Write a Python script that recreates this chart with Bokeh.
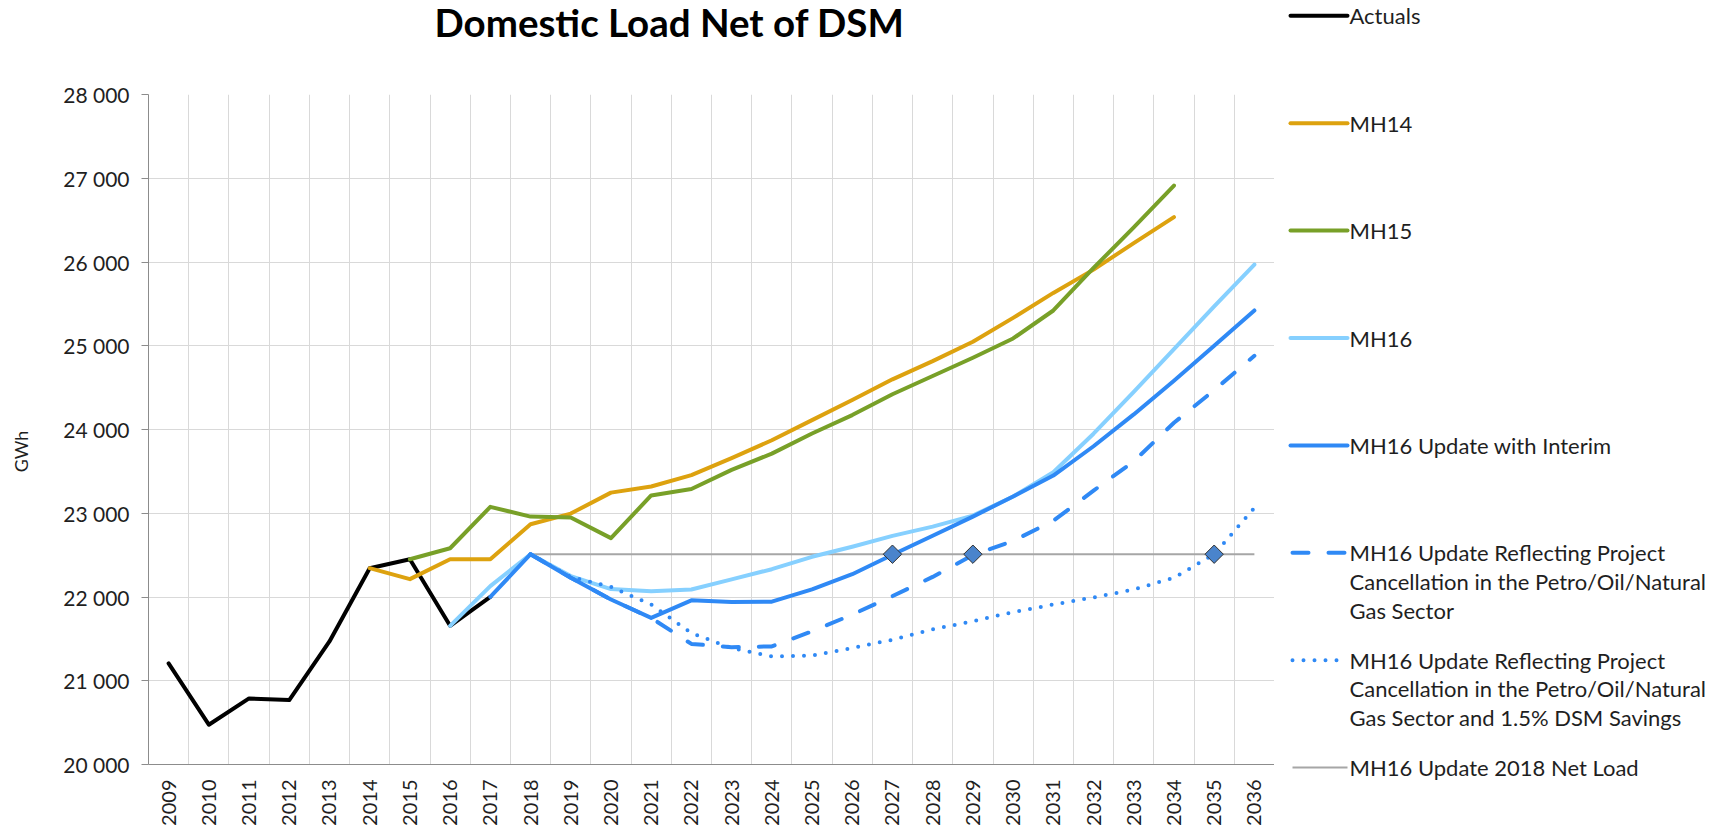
import numpy as np
from bokeh.plotting import figure
from bokeh.models import Range1d, FixedTicker
from bokeh.layouts import row, column
from bokeh.embed import file_html
from bokeh.resources import INLINE
from bokeh.core.properties import value

# ---------------- data ----------------
title_text = "Domestic Load Net of DSM"
y_axis_title = "GWh"

years = list(range(2009, 2037))
year_labels = [str(y) for y in years]

y_ticks = [20000, 21000, 22000, 23000, 24000, 25000, 26000, 27000, 28000]
y_tick_labels = ["20 000", "21 000", "22 000", "23 000", "24 000",
                 "25 000", "26 000", "27 000", "28 000"]

actual_years = list(range(2009, 2018))
actuals = [21207, 20475, 20789, 20769, 21469, 22344, 22451, 21656, 22002]

mh14_years = list(range(2014, 2035))
mh14 = [22344, 22213, 22451, 22451, 22869, 22996, 23246, 23320, 23455, 23658,
        23872, 24112, 24352, 24599, 24817, 25048, 25333, 25631, 25909, 26226, 26536]

mh15_years = list(range(2015, 2035))
mh15 = [22451, 22582, 23076, 22960, 22950, 22703, 23213, 23289, 23518, 23712,
        23952, 24172, 24421, 24639, 24857, 25087, 25421, 25929, 26413, 26913]

mh16_years = list(range(2016, 2037))
mh16 = [21656, 22130, 22511, 22250, 22095, 22070, 22090, 22210, 22332, 22480,
        22600, 22730, 22840, 22972, 23200, 23490, 23950, 24450, 24960, 25470, 25970]

interim_years = list(range(2017, 2037))
interim = [22002, 22511, 22230, 21970, 21750, 21960, 21940, 21944, 22092, 22272,
           22504, 22732, 22960, 23200, 23450, 23800, 24180, 24583, 25000, 25421]

cancel_years = list(range(2018, 2037))
cancel = [22511, 22230, 21970, 21750, 21440, 21400, 21410, 21590, 21790, 22010,
          22240, 22500, 22670, 22910, 23270, 23620, 24080, 24470, 24880]

dsm_years = list(range(2018, 2037))
dsm = [22511, 22240, 22120, 21910, 21570, 21390, 21290, 21300, 21390, 21490,
       21615, 21710, 21820, 21910, 21995, 22090, 22230, 22510, 23065]

net2018_years = [2018, 2036]
net2018_level = 22511

crossing_years = [2027, 2029, 2035]

legend_labels = [
    "Actuals",
    "MH14",
    "MH15",
    "MH16",
    "MH16 Update with Interim",
    "MH16 Update Reflecting Project\nCancellation in the Petro/Oil/Natural\nGas Sector",
    "MH16 Update Reflecting Project\nCancellation in the Petro/Oil/Natural\nGas Sector and 1.5% DSM Savings",
    "MH16 Update 2018 Net Load",
]

# ---------------- styles ----------------
BLUE = "#2F89F5"
styles = [
    dict(color="#000000", width=4, dash="solid"),
    dict(color="#DDA20F", width=4, dash="solid"),
    dict(color="#78A028", width=4, dash="solid"),
    dict(color="#86D0FF", width=4, dash="solid"),
    dict(color=BLUE, width=4, dash="solid"),
    dict(color=BLUE, width=4, dash="16 20"),
    dict(color=BLUE, width=4, dash="0 11"),
    dict(color="#A6A6A6", width=2, dash="solid"),
]
series = [
    (actual_years, actuals),
    (mh14_years, mh14),
    (mh15_years, mh15),
    (mh16_years, mh16),
    (interim_years, interim),
    (cancel_years, cancel),
    (dsm_years, dsm),
    (net2018_years, [net2018_level] * len(net2018_years)),
]
draw_order = [0, 7, 1, 2, 3, 4, 5, 6]

FONT = "Lato"
TEXT_COLOR = "#1F1F1F"

# layout geometry (page pixels; the layout starts at the page's top-left corner)
STRIP_W = 48          # narrow strip holding the y-axis title
AXIS_W = 100          # room for the y tick labels
FRAME_W = 1126
FRAME_H = 670
TITLE_H = 80
BORDER_T = 14
BORDER_B = 62
LEGEND_W = 440
TOTAL_H = TITLE_H + BORDER_T + FRAME_H + BORDER_B
FRAME_X0 = STRIP_W + AXIS_W
FRAME_X1 = FRAME_X0 + FRAME_W

# ---------------- main plot ----------------
p = figure(frame_width=FRAME_W, frame_height=FRAME_H,
           x_range=Range1d(2008.5, 2036.5), y_range=Range1d(20000, 28000),
           output_backend="svg", toolbar_location=None,
           min_border_left=AXIS_W, min_border_right=0,
           min_border_top=BORDER_T, min_border_bottom=BORDER_B)
p.outline_line_color = None
p.background_fill_color = "white"

for i in draw_order:
    xs, ys = series[i]
    st = styles[i]
    p.line(xs, ys, line_color=st["color"], line_width=st["width"],
           line_dash=st["dash"],
           line_cap="butt" if i == 7 else "round", line_join="round")

p.scatter(crossing_years, [net2018_level] * len(crossing_years),
          marker="square", angle=np.pi / 4, size=13,
          fill_color="#4A84CC", line_color="#333333", line_width=1)

# axes
p.xaxis.ticker = FixedTicker(ticks=years)
p.xaxis.major_label_overrides = {y: lab for y, lab in zip(years, year_labels)}
p.xaxis.major_label_orientation = np.pi / 2
p.xaxis.major_tick_out = 0
p.xaxis.major_tick_in = 0
p.xaxis.minor_tick_line_color = None
p.xaxis.major_label_standoff = 15
p.xaxis.major_label_text_font = FONT
p.xaxis.major_label_text_font_size = "20px"
p.xaxis.major_label_text_color = TEXT_COLOR
p.xaxis.axis_line_color = "#8C8C8C"

p.yaxis.ticker = FixedTicker(ticks=y_ticks)
p.yaxis.major_label_overrides = {t: lab for t, lab in zip(y_ticks, y_tick_labels)}
p.yaxis.major_tick_out = 7
p.yaxis.major_tick_in = 0
p.yaxis.minor_tick_line_color = None
p.yaxis.major_tick_line_color = "#8C8C8C"
p.yaxis.axis_line_color = "#8C8C8C"
p.yaxis.major_label_standoff = 12
p.yaxis.major_label_text_font = FONT
p.yaxis.major_label_text_font_size = "21px"
p.yaxis.major_label_text_color = TEXT_COLOR

p.xgrid.ticker = FixedTicker(ticks=[y + 0.5 for y in years])
p.ygrid.ticker = FixedTicker(ticks=y_ticks)
p.xgrid.grid_line_color = "#D9D9D9"
p.ygrid.grid_line_color = "#D9D9D9"

# ---------------- title strip (frame aligned with the plot frame) ----------------
t = figure(width=AXIS_W + FRAME_W, height=TITLE_H,
           x_range=Range1d(FRAME_X0, FRAME_X1),
           y_range=Range1d(TITLE_H, 0),
           output_backend="svg", toolbar_location=None, min_border=0,
           min_border_left=AXIS_W,
           x_axis_type=None, y_axis_type=None)
t.outline_line_color = None
t.grid.visible = False
t.text(x=[434], y=[21.5], text=[title_text], text_font=value(FONT),
       text_font_style="bold", text_font_size="38.5px", text_color="#000000",
       text_baseline="middle", text_align="left")

# ---------------- y-axis title strip ----------------
ys_fig = figure(width=STRIP_W, height=TOTAL_H,
                x_range=Range1d(0, STRIP_W), y_range=Range1d(TOTAL_H, 0),
                output_backend="svg", toolbar_location=None, min_border=0,
                x_axis_type=None, y_axis_type=None)
ys_fig.outline_line_color = None
ys_fig.grid.visible = False
ys_fig.text(x=[20], y=[451], text=[y_axis_title], angle=np.pi / 2,
            text_font=value(FONT), text_font_size="18px", text_color=TEXT_COLOR,
            text_baseline="middle", text_align="center")

# ---------------- legend panel ----------------
lg = figure(width=LEGEND_W, height=TOTAL_H,
            x_range=Range1d(FRAME_X1, FRAME_X1 + LEGEND_W),
            y_range=Range1d(TOTAL_H, 0),
            output_backend="svg", toolbar_location=None, min_border=0,
            x_axis_type=None, y_axis_type=None)
lg.outline_line_color = None
lg.grid.visible = False

for i, label in enumerate(legend_labels):
    st = styles[i]
    y0 = 15.3 + 107.4 * i
    if st["dash"] == "solid" and st["width"] == 4:
        x0, x1 = 1290, 1347
    else:
        x0, x1 = 1292, 1347
    lg.line([x0, x1], [y0, y0], line_color=st["color"], line_width=st["width"],
            line_dash=st["dash"], line_cap="butt" if i == 7 else "round")
    for j, line in enumerate(label.split("\n")):
        lg.text(x=[1349], y=[y0 + 28.7 * j], text=[line], text_font=value(FONT),
                text_font_size="22px", text_color=TEXT_COLOR,
                text_baseline="middle", text_align="left")

layout = row(ys_fig, column(t, p), lg)
open("out.html", "w").write(file_html(layout, INLINE))
